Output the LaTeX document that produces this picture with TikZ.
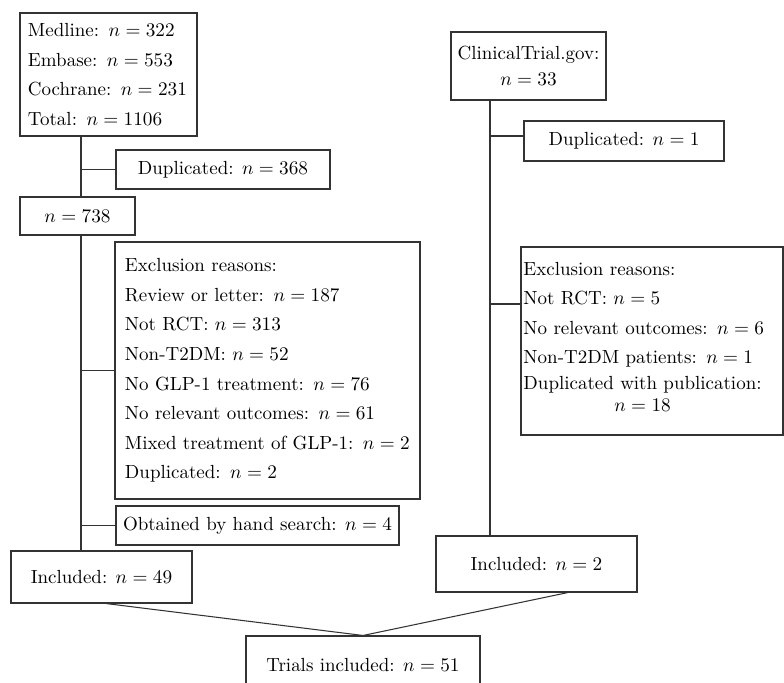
\documentclass[tikz,border=0pt]{standalone}
\usepackage{amsmath}
\usepackage{tikz}

\begin{document}
\begin{tikzpicture}[
    x=0.2mm, y=-0.2mm,
    every node/.style={font=\fontsize{10.8}{16.8}\selectfont},
    box/.style={rectangle, draw=black!80, line width=0.6pt,
                align=center, inner sep=0pt},
    listbox/.style={box, align=left, inner xsep=1.8mm},
    link/.style={draw=black!80, line width=0.6pt},
]

\useasboundingbox (0,0) rectangle (784,683);
\clip (0,0) rectangle (784,683);

% left branch: database search
\node [listbox, inner xsep=1.6mm, text width=32.2mm, minimum height=24.6mm] (src) at (108.5,74.5)
  {Medline: $n = 322$\\
   Embase: $n = 553$\\
   Cochrane: $n = 231$\\
   Total: $n = 1106$};
\node [box, minimum width=42.8mm, minimum height=7.8mm] (dupA) at (223,169.5)
  {Duplicated: $n = 368$};
\node [box, minimum width=23mm, minimum height=7.6mm] (pool) at (77.5,216)
  {$n = 738$};
\node [listbox, inner xsep=2mm, text width=57mm, minimum height=51.4mm] (exclA) at (267.5,370.5)
  {Exclusion reasons:\\
   Review or letter: $n = 187$\\
   Not RCT: $n = 313$\\
   Non-T2DM: $n = 52$\\
   No GLP-1 treatment: $n = 76$\\
   No relevant outcomes: $n = 61$\\
   Mixed treatment of GLP-1: $n = 2$\\
   Duplicated: $n = 2$};
\node [box, minimum width=56.6mm, minimum height=7.8mm] (hand) at (257.5,525.5)
  {Obtained by hand search: $n = 4$};
\node [box, minimum width=36.2mm, minimum height=10.4mm] (inclA) at (101.5,577)
  {Included: $n = 49$};

% right branch: trial registry
\node [box, minimum width=31mm, minimum height=13.6mm,
       font=\fontsize{10.8}{15}\selectfont] (ctg) at (528.5,66)
  {ClinicalTrial.gov:\\ $n = 33$};
\node [box, minimum width=40mm, minimum height=8mm] (dupB) at (624,141)
  {Duplicated: $n = 1$};
\node [listbox, inner xsep=0.5mm, text width=51.4mm, minimum height=37.6mm] (exclB) at (652,341)
  {Exclusion reasons:\\
   Not RCT: $n = 5$\\
   No relevant outcomes: $n = 6$\\
   Non-T2DM patients: $n = 1$\\
   \begin{tabular}{@{}c@{}}Duplicated with publication:\\[-4.8pt] $n = 18$\end{tabular}};
\node [box, minimum width=40.2mm, minimum height=11.2mm] (inclB) at (536.5,564)
  {Included: $n = 2$};

\node [box, minimum width=46.8mm, minimum height=11.6mm] (trials) at (363,665)
  {Trials included: $n = 51$};

% trunks and side branches
\coordinate (trunkA) at (81,0);
\coordinate (trunkB) at (490,0);
\draw [link] (src.south -| trunkA) -- (pool.north -| trunkA);
\draw [link] (pool.south -| trunkA) -- (inclA.north -| trunkA);
\draw [link] (dupA.west -| trunkA) -- (dupA.west);
\draw [link] (exclA.west -| trunkA) -- (exclA.west);
\draw [link] (hand.west -| trunkA) -- (hand.west);

\draw [link] (ctg.south -| trunkB) -- (inclB.north -| trunkB);
\draw [link] ([yshift=1mm]dupB.west -| trunkB) -- ([yshift=1mm]dupB.west);
\draw [link] ([yshift=7.4mm]exclB.west -| trunkB) -- ([yshift=7.4mm]exclB.west);

\draw [link] ([xshift=0.9mm]inclA.south) -- (trials.north);
\draw [link] ([xshift=6.3mm]inclB.south) -- (trials.north);

\end{tikzpicture}
\end{document}
